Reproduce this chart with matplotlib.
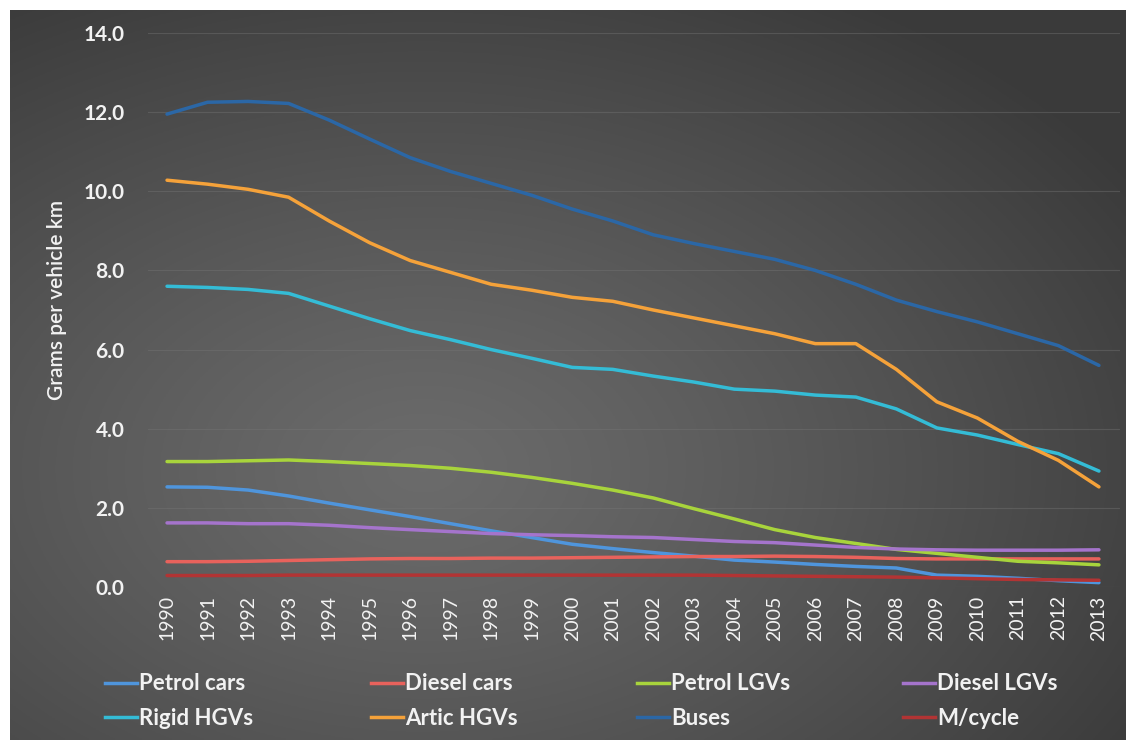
import matplotlib
matplotlib.use("Agg")
import matplotlib.pyplot as plt
from matplotlib.lines import Line2D
import numpy as np

plt.rcParams['font.family'] = ['Lato', 'DejaVu Sans']
plt.rcParams['font.weight'] = 'bold'

# emissions, grams per vehicle km
years = list(range(1990, 2014))

petrol_cars = [2.53, 2.52, 2.45, 2.30, 2.12, 1.95, 1.78, 1.60, 1.42, 1.25, 1.08, 0.97,
               0.87, 0.78, 0.68, 0.63, 0.57, 0.52, 0.48, 0.30, 0.27, 0.22, 0.16, 0.11]
diesel_cars = [0.64, 0.64, 0.65, 0.67, 0.69, 0.71, 0.72, 0.72, 0.73, 0.73, 0.74, 0.75,
               0.76, 0.77, 0.77, 0.78, 0.77, 0.75, 0.72, 0.71, 0.71, 0.71, 0.71, 0.71]
petrol_lgvs = [3.17, 3.17, 3.19, 3.21, 3.17, 3.12, 3.07, 3.00, 2.90, 2.77, 2.62, 2.45,
               2.25, 1.98, 1.72, 1.45, 1.25, 1.10, 0.95, 0.85, 0.75, 0.65, 0.61, 0.56]
diesel_lgvs = [1.62, 1.62, 1.60, 1.60, 1.56, 1.50, 1.45, 1.40, 1.35, 1.32, 1.30, 1.27,
               1.25, 1.20, 1.15, 1.12, 1.06, 1.00, 0.96, 0.94, 0.93, 0.93, 0.93, 0.94]
rigid_hgvs = [7.60, 7.57, 7.52, 7.42, 7.10, 6.78, 6.48, 6.25, 6.00, 5.78, 5.55, 5.50,
              5.33, 5.18, 5.00, 4.95, 4.85, 4.80, 4.50, 4.02, 3.84, 3.60, 3.37, 2.93]
artic_hgvs = [10.28, 10.18, 10.05, 9.85, 9.25, 8.70, 8.25, 7.95, 7.65, 7.50, 7.32, 7.22,
              7.00, 6.80, 6.60, 6.40, 6.15, 6.15, 5.50, 4.68, 4.27, 3.68, 3.20, 2.53]
buses = [11.95, 12.25, 12.27, 12.22, 11.80, 11.32, 10.85, 10.50, 10.20, 9.90, 9.55, 9.25,
         8.90, 8.68, 8.48, 8.28, 8.00, 7.65, 7.25, 6.96, 6.70, 6.40, 6.10, 5.60]
mcycle = [0.29, 0.29, 0.29, 0.30, 0.30, 0.30, 0.30, 0.30, 0.30, 0.30, 0.30, 0.30,
          0.30, 0.30, 0.29, 0.28, 0.27, 0.26, 0.25, 0.23, 0.21, 0.19, 0.18, 0.17]

names = ["Petrol cars", "Diesel cars", "Petrol LGVs", "Diesel LGVs",
         "Rigid HGVs", "Artic HGVs", "Buses", "M/cycle"]
series = [petrol_cars, diesel_cars, petrol_lgvs, diesel_lgvs,
          rigid_hgvs, artic_hgvs, buses, mcycle]
colors = ["#4f95dc", "#e8625c", "#a8d43c", "#a574cc",
          "#34bcd6", "#f5a23a", "#2b67a6", "#b23434"]
yticks = [0, 2, 4, 6, 8, 10, 12, 14]

W, H = 1126, 742
fig = plt.figure(figsize=(W / 100, H / 100), dpi=100)
fig.patch.set_facecolor("white")

# dark panel with a soft radial glow
bg = fig.add_axes([10 / W, 2 / H, (W - 10) / W, (H - 12) / H])
gx, gy = np.meshgrid(np.linspace(0, 1, 400), np.linspace(0, 1, 300))
r = np.sqrt(((gx - 0.37) / 0.75) ** 2 + ((gy - 0.63) / 0.75) ** 2)
r = np.clip(r, 0, 1)
shade = 0.42 - 0.19 * r ** 1.2
bg.imshow(np.dstack([shade, shade, shade]), aspect="auto", extent=(0, 1, 0, 1))
bg.axis("off")

ax = fig.add_axes([148 / W, 1 - 587 / H, (1120 - 148) / W, (587 - 33) / H])
ax.patch.set_alpha(0)

for vals, col in zip(series, colors):
    ax.plot(years, vals, color=col, lw=2.5, solid_capstyle="round")

ax.set_xlim(1989.53, 2013.52)
ax.set_ylim(0, 14)
ax.set_yticks(yticks)
ax.set_yticklabels([f"{v:.1f}" for v in yticks])
ax.set_xticks(years)
ax.set_xticklabels([str(y) for y in years], rotation=90, fontweight="normal")
ax.tick_params(axis="y", colors="#f2f2f2", labelsize=15, length=0, pad=17)
ax.tick_params(axis="x", colors="#f2f2f2", labelsize=14, length=0, pad=6)
ax.grid(axis="y", color="#777777", lw=0.8, alpha=0.4)
ax.set_axisbelow(True)
for s in ax.spines.values():
    s.set_visible(False)

fig.text(57 / W, 1 - 300 / H, "Grams per vehicle km", rotation=90,
         ha="center", va="center", color="#f2f2f2", fontsize=15,
         fontweight="semibold")

# legend: four columns, two rows
col_x = [105, 371, 637, 903]
for i, x in enumerate(col_x):
    idx = [i, i + 4]
    handles = [Line2D([0], [0], color=colors[k], lw=2.5) for k in idx]
    leg = fig.legend(handles, [names[k] for k in idx], loc="center left",
                     bbox_to_anchor=(x / W, 1 - 701 / H), frameon=False,
                     fontsize=16, handlelength=1.45, handletextpad=0.1,
                     labelspacing=0.6, borderpad=0, borderaxespad=0)
    for t in leg.get_texts():
        t.set_color("#f2f2f2")

fig.savefig("out.png", dpi=100, facecolor=fig.get_facecolor())
